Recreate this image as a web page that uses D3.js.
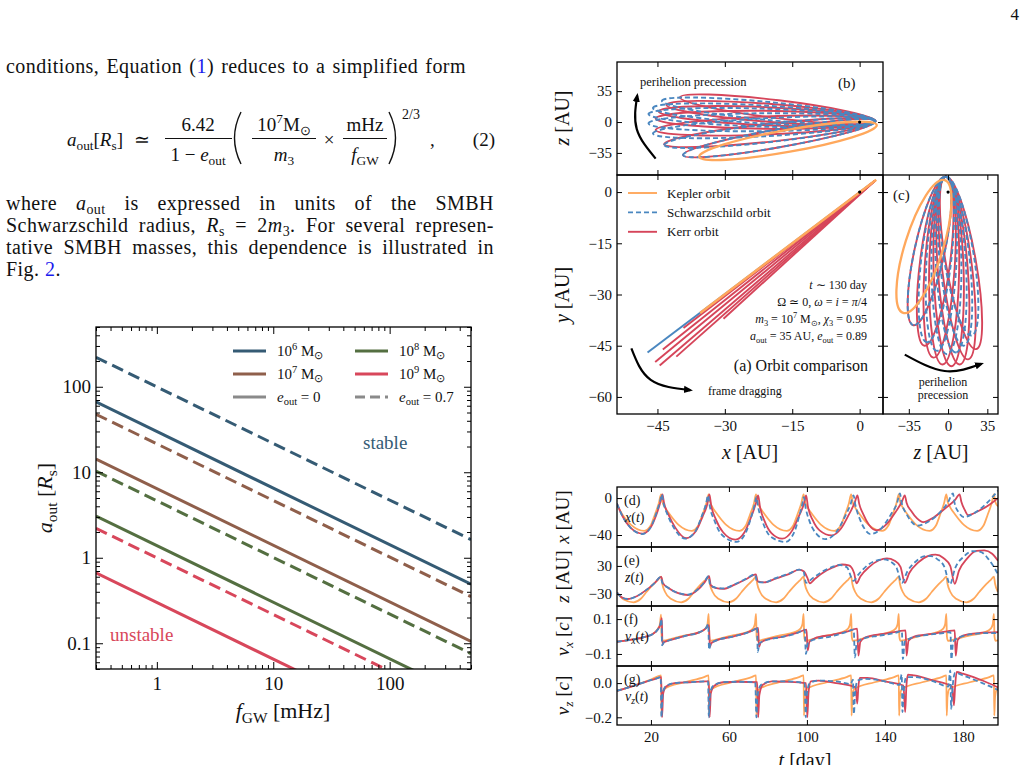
<!DOCTYPE html>
<html>
<head>
<meta charset="utf-8">
<script src="https://cdn.jsdelivr.net/npm/d3@7"></script>
<style>
body { margin: 0; background: #fff; }
svg text { font-family: "Liberation Serif", "Times New Roman", serif; fill: #111; }
</style>
</head>
<body>
<svg id="page" width="1028" height="765"></svg>
<script>
// ---------- Fig. 2 data : a_out vs f_GW ----------
var fRange = [0.3, 500];
var massExp = ["6", "7", "8", "9"];
var massColors = ["#355b74", "#8f5f4b", "#546f41", "#d8475b"];
var aCircStart = [66.5, 14.3, 3.08, 0.665];   // e_out = 0, at f = 0.3 mHz
var aCircEnd = [0.49, 0.105, 0.0227, 0.0049];  // at f = 500 mHz
var aEccStart = [221, 47.7, 10.3, 2.21];      // e_out = 0.7
var aEccEnd = [1.63, 0.351, 0.0757, 0.0163];
var fMajor = [1, 10, 100];
var aMajor = [0.1, 1, 10, 100];

// ---------- orbit panels ----------
var kepColor = "#ffa85c", schColor = "#4a87c0", kerColor = "#d6455a";
// (a) x-y : far ends of each orbit
var periXY = [3.4, 3.3];
var kepXY = [[3.7, 3.6], [-35.5, -35.4]];
var schXYEnd = [[-47.2, -47.0]];
var kerXYEnd = [[-39.2, -39.8], [-30.3, -37.1], [-40.8, -48.2], [-43.8, -46.1], [-44.5, -50.8], [-45.5, -49.8]];
// (b) x-z : pericenter / apocenter of each loop
var periXZ = [3.5, 1];
var kepXZ = [[3.8, -3.4], [-35.7, -39.3]];
var schXZEnd = [[-39.3, -37.5], [-43.5, -26], [-46, -13], [-47, -1.5], [-47, 9], [-46, 16], [-44, 24]];
var kerXZEnd = [[-39.3, -37.5], [-43.5, -25], [-45.4, -9], [-45.4, 4], [-44.7, 12], [-43, 19.5], [-40, 28]];
// (c) z-y
var periZY = [-2, 4.5];
var kepZY = [[-3, 3.5], [-40, -35.4]];
var schZYEnd = [[-31, -39], [-19, -44], [-10, -46.5], [-1, -47.5], [7, -47], [14, -45], [21, -42]];
var kerZYEnd = [[-31, -39], [-21, -45], [-13, -48.5], [-5, -50.5], [3, -51], [10.5, -50.5], [18, -49], [25, -46]];

// ---------- time series (t [day], value) ----------
var kepX = [[2.6,-7],[5.4,-18],[9.8,-29],[16.6,-35.5],[19.8,-30],[22,-18],[24,-6],[25.2,4],
  [25.9,-4],[27.2,-10],[29.8,-18],[34.2,-29],[41,-35.5],[44.2,-30],[46.4,-18],[48.4,-6],[49.6,4],
  [50.3,-4],[51.6,-10],[54.2,-18],[58.6,-29],[65.4,-35.5],[68.6,-30],[70.8,-18],[72.8,-6],[73.9,4],
  [74.6,-4],[75.9,-10],[78.5,-18],[82.9,-29],[89.7,-35.5],[92.9,-30],[95.1,-18],[97.1,-6],[98.3,4],
  [99,-4],[100.3,-10],[102.9,-18],[107.3,-29],[114.1,-35.5],[117.3,-30],[119.5,-18],[121.5,-6],[122.7,4],
  [123.4,-4],[124.7,-10],[127.3,-18],[131.7,-29],[138.5,-35.5],[141.7,-30],[143.9,-18],[145.9,-6],[147.1,4],
  [147.8,-4],[149.1,-10],[151.7,-18],[156.1,-29],[162.9,-35.5],[166.1,-30],[168.3,-18],[170.3,-6],[171.5,4],
  [172.2,-4],[173.5,-10],[176.1,-18],[180.5,-29],[187.3,-35.5],[190.5,-30],[192.7,-18],[194.7,-6],[195.9,4],
  [196.6,-4],[198,-9]];
var schX = [[2.6,-6],[5.5,-20],[9.5,-32],[15.5,-39],[19.5,-33],[22.5,-18],[24.6,-4],[25.6,4],
  [26.4,-5],[28.5,-18],[32,-33],[37.5,-44],[42.5,-37],[46,-20],[48.3,-6],[49.3,3],
  [50.1,-8],[52.5,-24],[56.5,-40],[64,-47.5],[68.5,-38],[71.5,-20],[73.2,-7],[74.1,1],
  [75,-10],[77.5,-27],[81.5,-42],[89,-47.5],[93.5,-37],[96,-20],[97.6,-7],[98.4,1],
  [99.3,-10],[101.5,-26],[105,-39],[109.5,-44.5],[115,-37],[119.5,-20],[122.5,-6],[123.9,3],
  [124.8,-7],[127,-22],[129.8,-34],[132.5,-39],[138,-33],[143,-18],[146.3,-5],[147.7,5],
  [148.6,-5],[151,-17],[153.8,-26],[156.5,-30],[162,-26],[168,-16],[172.5,-4],[174.9,5],
  [175.7,-5],[178,-16],[180.3,-20.5],[186,-16],[192,-6],[198,8]];
var kerX = [[2.6,-6],[5.5,-20],[9.5,-32],[15.8,-38.5],[19.8,-32],[22.8,-18],[24.9,-4],[25.9,4],
  [26.7,-5],[29,-18],[32.5,-32],[38,-43.5],[43,-36],[46.5,-20],[49,-6],[50,4],
  [50.9,-8],[53.3,-23],[57,-37],[63.3,-45],[68,-37],[71.5,-20],[73.8,-6],[75,3],
  [75.9,-9],[78.3,-25],[81.8,-38],[87.3,-44],[92.5,-35],[96,-19],[98.5,-6],[99.6,3],
  [100.5,-9],[103,-24],[106.5,-35],[112.7,-40.5],[117.5,-33],[121.5,-18],[124.5,-5],[125.9,3],
  [126.8,-6],[129,-18],[131.8,-29],[135.7,-35],[141,-28],[145.5,-15],[148.7,-4],[150.2,3],
  [151.1,-5],[153.5,-14],[156.5,-22],[159.6,-26],[165,-21],[171,-11],[176,-2],[178.3,4],
  [179.2,-4],[181,-13],[182.7,-18.5],[188,-14],[193,-8],[198,0]];

var kepZ = [[2.6,-27],[5.8,-41],[11.1,-47.5],[14.8,-40],[17.8,-25],[20.8,-11],[23.3,-1],[25.2,7],
  [25.8,-8],[27.2,-25],[30.2,-40],[35.5,-47.5],[39.2,-40],[42.2,-25],[45.2,-11],[47.7,-1],[49.6,7],
  [50.2,-8],[51.6,-25],[54.6,-40],[59.9,-47.5],[63.6,-40],[66.6,-25],[69.6,-11],[72.1,-1],[73.9,7],
  [74.5,-8],[75.9,-25],[78.9,-40],[84.2,-47.5],[87.9,-40],[90.9,-25],[93.9,-11],[96.4,-1],[98.3,7],
  [98.9,-8],[100.3,-25],[103.3,-40],[108.6,-47.5],[112.3,-40],[115.3,-25],[118.3,-11],[120.8,-1],[122.7,7],
  [123.3,-8],[124.7,-25],[127.7,-40],[133,-47.5],[136.7,-40],[139.7,-25],[142.7,-11],[145.2,-1],[147.1,7],
  [147.7,-8],[149.1,-25],[152.1,-40],[157.4,-47.5],[161.1,-40],[164.1,-25],[167.1,-11],[169.6,-1],[171.5,7],
  [172.1,-8],[173.5,-25],[176.5,-40],[181.8,-47.5],[185.5,-40],[188.5,-25],[191.5,-11],[194,-1],[195.9,7],
  [196.5,-8],[197.9,-25]];
var schZ = [[2.6,-27],[5,-37],[8,-40.5],[13,-34],[18,-20],[22,-6],[25,6.5],
  [25.8,-6],[29,-17],[34,-28],[39,-31],[44,-20],[47.5,-4],[49.5,8],
  [50.4,-11],[53,-16],[57,-18],[63,-9],[69,3],[73.4,12],
  [74.4,-4],[78,-5],[84,4],[91,14],[96,22],[98.3,18],
  [99.5,-6],[103,4],[108,18],[113,28],[117,32],[120.5,27],[123.9,-2],
  [126.5,12],[131,31],[136,42],[139.5,44],[143,39],[146,26],[148.7,-6],
  [151.5,18],[156,40],[160.5,51],[163.5,51],[167,44],[170.5,28],[173.4,-9],
  [176,25],[180.5,50],[185,61.5],[189,60],[193,45],[196,27],[198,12]];
var kerZ = [[2.6,-27],[5,-37],[8,-40.5],[13,-34],[18,-20],[22,-6],[25.3,6.5],
  [26.1,-6],[29,-17],[34,-28],[39,-32],[44,-21],[47.5,-5],[49.8,8],
  [50.7,-11],[53,-17],[57,-19],[63,-10],[69,2],[73.8,12],
  [74.8,-3],[78,-5],[84,3],[91,13],[96,22],[98.5,18],[100.2,5],[101.4,-7],
  [104,2],[108,15],[113,26],[118,33],[121.5,31],[124.2,15],[125.4,-7],
  [127.5,8],[132,28],[137,42],[141,46],[145,41],[148,28],[150.2,-6],
  [152.5,15],[157,37],[162,51],[166,54],[170,47],[173.5,30],[175.8,-8],
  [178,20],[182,45],[187,62],[191,63],[195,56],[198,41]];

var kepVx = [[2.6,-0.03],[10,-0.018],[17,-0.002],[21,0.015],[23.6,0.045],[24.6,0.07],[25.2,0.125],[25.5,0],[26,-0.025],[28,-0.02],[37,0.005],[45,0.025],
  [48,0.045],[49,0.07],[49.6,0.13],[49.9,0],[50.4,-0.025],[52.4,-0.02],[61.4,0.005],[69.4,0.025],
  [72.3,0.045],[73.3,0.07],[73.9,0.13],[74.2,0],[74.7,-0.025],[76.7,-0.02],[85.7,0.005],[93.7,0.025],
  [96.7,0.045],[97.7,0.07],[98.3,0.13],[98.6,0],[99.1,-0.025],[101.1,-0.02],[110.1,0.005],[118.1,0.025],
  [121.1,0.045],[122.1,0.07],[122.7,0.13],[123,0],[123.5,-0.025],[125.5,-0.02],[134.5,0.005],[142.5,0.025],
  [145.5,0.045],[146.5,0.07],[147.1,0.13],[147.4,0],[147.9,-0.025],[149.9,-0.02],[158.9,0.005],[166.9,0.025],
  [169.9,0.045],[170.9,0.07],[171.5,0.13],[171.8,0],[172.3,-0.025],[174.3,-0.02],[183.3,0.005],[191.3,0.025],
  [194.3,0.045],[195.3,0.07],[195.9,0.13],[196.2,0],[196.7,-0.025],[198,-0.022]];
var schVx = [[2.6,-0.03],[10,-0.018],[17,-0.002],[21,0.015],[23.5,0.04],[24.8,0.07],[25.4,0.1],[25.7,-0.05],[26.5,-0.035],[30,-0.02],[38,0.005],[45,0.025],
  [48.3,0.05],[49.4,0.07],[49.8,-0.075],[50.6,-0.04],[53,-0.025],[62,0],[70,0.025],
  [73.5,0.045],[74.4,0.055],[74.8,-0.09],[75.6,-0.04],[78,-0.025],[87,-0.003],[95,0.02],
  [98.8,0.04],[99.5,-0.1],[100.4,-0.04],[103,-0.02],[112,0],[120,0.025],
  [124,0.04],[124.6,-0.12],[125.5,-0.04],[128,-0.015],[137,0.005],[145,0.02],
  [148.7,0.03],[149.2,-0.13],[150.2,-0.03],[153,-0.01],[162,0.01],[170,0.02],
  [173.6,0.025],[174.1,-0.13],[175,-0.03],[178,-0.005],[186,0.015],[194,0.02],[198,0.02]];
var kerVx = [[2.6,-0.03],[10,-0.018],[17,-0.002],[21,0.015],[23.5,0.04],[24.9,0.07],[25.6,0.105],[25.9,-0.045],[26.7,-0.033],[30,-0.02],[38,0.005],[45,0.025],
  [48.5,0.05],[49.8,0.065],[50.2,-0.06],[51,-0.038],[53,-0.025],[62,0],[70,0.025],
  [74,0.045],[75,0.05],[75.4,-0.06],[76.3,-0.035],[79,-0.02],[88,0],[96,0.025],
  [99.8,0.04],[100.4,-0.08],[101.3,-0.03],[104,-0.01],[113,0.01],[121,0.03],
  [125.8,0.045],[126.4,-0.11],[127.4,-0.03],[130,-0.005],[139,0.015],[147,0.03],
  [150.6,0.035],[151.1,-0.11],[152.1,-0.025],[155,0],[164,0.015],[172,0.03],
  [175.8,0.035],[176.3,-0.11],[177.3,-0.02],[180,0.005],[188,0.02],[198,0.025]];

var kepVz = [[2.6,-0.045],[12,-0.012],[20,0.02],[25.2,0.045],[25.4,-0.19],[25.8,-0.08],[26.8,-0.035],[37.2,0.005],[47.2,0.035],
  [49.6,0.045],[49.8,-0.19],[50.2,-0.08],[51.2,-0.035],[61.6,0.005],[71.6,0.035],
  [73.9,0.045],[74.1,-0.19],[74.5,-0.08],[75.5,-0.035],[85.9,0.005],[95.9,0.035],
  [98.3,0.045],[98.5,-0.19],[98.9,-0.08],[99.9,-0.035],[110.3,0.005],[120.3,0.035],
  [122.7,0.045],[122.9,-0.19],[123.3,-0.08],[124.3,-0.035],[134.7,0.005],[144.7,0.035],
  [147.1,0.045],[147.3,-0.19],[147.7,-0.08],[148.7,-0.035],[159.1,0.005],[169.1,0.035],
  [171.5,0.045],[171.7,-0.19],[172.1,-0.08],[173.1,-0.035],[183.5,0.005],[193.5,0.035],
  [195.9,0.045],[196.1,-0.19],[196.5,-0.08],[197.5,-0.035],[198,-0.033]];
var schVz = [[2.6,-0.045],[10,-0.02],[18,0.01],[23,0.028],[25,0.035],[25.4,-0.2],[26,-0.06],[27.5,-0.02],[32,0],[40,0.005],[48,0.01],
  [49.3,0.01],[49.7,-0.2],[50.3,-0.06],[52,-0.015],[57,0.005],[65,0.008],
  [73.5,0.005],[74.1,-0.2],[74.7,-0.07],[76.5,-0.01],[82,0.01],[90,0.01],
  [98.8,0],[99.4,-0.2],[100,-0.06],[101.5,0],[106,0.015],[115,0.01],
  [122.5,-0.005],[123.6,0.02],[124.1,-0.18],[124.7,-0.06],[126,0.015],[130,0.025],[140,0.01],
  [147.5,-0.01],[148.6,0.05],[149,-0.17],[149.6,-0.05],[151,0.035],[155,0.035],[165,0.01],
  [172.5,-0.02],[173.5,0.075],[174,-0.15],[174.6,-0.04],[176,0.06],[180,0.045],[190,0],[198,-0.04]];
var kerVz = [[2.6,-0.045],[10,-0.02],[18,0.01],[23,0.028],[25.3,0.035],[25.7,-0.2],[26.3,-0.06],[27.8,-0.02],[32,0],[40,0.005],[48,0.01],
  [49.7,0.01],[50.1,-0.2],[50.7,-0.06],[52.5,-0.015],[57,0.005],[65,0.008],
  [74.5,0.005],[75,-0.2],[75.6,-0.07],[77.4,-0.01],[82,0.01],[90,0.008],
  [99.5,0],[100.2,-0.2],[100.8,-0.06],[102,0.01],[106,0.015],[115,0],
  [125,-0.025],[125.8,-0.12],[126.4,-0.02],[127.2,0.03],[131,0.03],[140,0.01],
  [149.5,-0.015],[150.4,-0.17],[151,-0.02],[151.8,0.05],[155,0.045],[165,0.015],
  [174.5,-0.02],[175.4,-0.13],[176,-0.02],[176.8,0.065],[180,0.055],[190,0.015],[198,-0.025]];

var tTicks = [20, 60, 100, 140, 180];

// ======================================================
var svg = d3.select("#page");
svg.append("rect").attr("width", 1028).attr("height", 765).attr("fill", "#fff");
var defs = svg.append("defs");
defs.append("marker").attr("id", "arr").attr("viewBox", "0 0 10 10")
  .attr("refX", 7).attr("refY", 5).attr("markerUnits", "userSpaceOnUse")
  .attr("markerWidth", 9).attr("markerHeight", 9).attr("orient", "auto")
  .append("path").attr("d", "M0,1 L10,5 L0,9 z").attr("fill", "#000");

var clipN = 0;
function clip(x, y, w, h) {
  var id = "clip" + (clipN++);
  defs.append("clipPath").attr("id", id).append("rect")
    .attr("x", x).attr("y", y).attr("width", w).attr("height", h);
  return "url(#" + id + ")";
}

// text with italic / sub / sup / blue parts
function rich(g, x, y, size, parts, anchor) {
  var t = g.append("text").attr("x", x).attr("y", y).style("font-size", size + "px");
  if (anchor) t.attr("text-anchor", anchor);
  var shift = 0;
  parts.forEach(function(p) {
    var s = typeof p === "string" ? [p, ""] : p;
    var want = s[1].indexOf("_") >= 0 ? size * 0.22 : (s[1].indexOf("^") >= 0 ? -size * 0.4 : 0);
    var ts = t.append("tspan").attr("dy", want - shift).text(s[0]);
    shift = want;
    if (s[1].indexOf("i") >= 0) ts.style("font-style", "italic");
    if (want) ts.style("font-size", (size * 0.7) + "px");
    if (s[1].indexOf("b") >= 0) ts.style("fill", "#1a1aee");
  });
  return t;
}
// justify a line by widening the word gaps
function justify(t, width) {
  t.style("letter-spacing", "0.45px");
  var natural = t.node().getComputedTextLength();
  var gaps = (t.text().match(/ /g) || []).length;
  if (gaps) t.style("word-spacing", Math.max(0, (width - natural) / gaps) + "px");
}

function minus(d) { return (d < 0 ? "\u2212" : "") + Math.abs(d); }
function blank() { return ""; }

function styleAx(sel, fs) {
  sel.select(".domain").remove();
  sel.selectAll(".tick line").attr("stroke", "#000").attr("stroke-width", 1);
  sel.selectAll(".tick text").attr("fill", "#111")
    .style("font-family", "'Liberation Serif', serif").style("font-size", fs + "px");
}

// frame with inward ticks on every side
function axes4(g, sx, sy, xt, yt, xfmt, yfmt, fs, len) {
  var r = sx.range(), d = sy.range();
  styleAx(g.append("g").attr("transform", "translate(0," + d[0] + ")")
    .call(d3.axisBottom(sx).tickValues(xt).tickSize(-len).tickPadding(6).tickFormat(xfmt || blank)), fs);
  styleAx(g.append("g").attr("transform", "translate(0," + d[1] + ")")
    .call(d3.axisTop(sx).tickValues(xt).tickSize(-len).tickFormat(blank)), fs);
  styleAx(g.append("g").attr("transform", "translate(" + r[0] + ",0)")
    .call(d3.axisLeft(sy).tickValues(yt).tickSize(-len).tickPadding(5).tickFormat(yfmt || blank)), fs);
  styleAx(g.append("g").attr("transform", "translate(" + r[1] + ",0)")
    .call(d3.axisRight(sy).tickValues(yt).tickSize(-len).tickFormat(blank)), fs);
  g.append("rect").attr("x", r[0]).attr("y", d[1]).attr("width", r[1] - r[0]).attr("height", d[0] - d[1])
    .attr("fill", "none").attr("stroke", "#000").attr("stroke-width", 1.3);
}

function ylabel(g, x, y, size, parts) {
  var t = rich(g, 0, 0, size, parts, "middle");
  t.attr("transform", "translate(" + x + "," + y + ") rotate(-90)");
  return t;
}

// ---------------- page text ----------------
var txt = svg.append("g");
svg.append("text").attr("x", 1019).attr("y", 20).attr("text-anchor", "end").style("font-size", "17px").text("4");
justify(rich(txt, 6, 73, 20, ["conditions, Equation (", ["1", "b"], ") reduces to a simplified form"]), 460);
justify(rich(txt, 6, 210, 20, ["where ", ["a", "i"], ["out", "_"], " is expressed in units of the SMBH"]), 488);
justify(rich(txt, 6, 232, 20, ["Schwarzschild radius, ", ["R", "i"], ["s", "_"], " = 2", ["m", "i"], ["3", "_"], ". For several represen-"]), 488);
justify(rich(txt, 6, 254, 20, ["tative SMBH masses, this dependence is illustrated in"]), 488);
rich(txt, 6, 276, 20, ["Fig. ", ["2", "b"], "."]).style("letter-spacing", "0.45px");

// equation (2)
var eq = svg.append("g");
rich(eq, 67, 146, 19, [["a", "i"], ["out", "_"], "[", ["R", "i"], ["s", "_"], "]"]);
rich(eq, 142, 146, 19, ["\u2243"], "middle");
rich(eq, 198, 131, 19, ["6.42"], "middle");
eq.append("line").attr("x1", 165).attr("x2", 232).attr("y1", 138.5).attr("y2", 138.5).attr("stroke", "#111").attr("stroke-width", 1);
rich(eq, 198, 161, 19, ["1 \u2212 ", ["e", "i"], ["out", "_"]], "middle");
eq.append("path").attr("d", "M241,112 Q228,138 241,164").attr("fill", "none").attr("stroke", "#111").attr("stroke-width", 1.4);
rich(eq, 284, 131, 19, ["10", ["7", "^"], "M", ["\u2299", "_"]], "middle");
eq.append("line").attr("x1", 252).attr("x2", 316).attr("y1", 138.5).attr("y2", 138.5).attr("stroke", "#111").attr("stroke-width", 1);
rich(eq, 284, 161, 19, [["m", "i"], ["3", "_"]], "middle");
rich(eq, 329, 146, 19, ["\u00d7"], "middle");
rich(eq, 365, 131, 19, ["mHz"], "middle");
eq.append("line").attr("x1", 343).attr("x2", 387).attr("y1", 138.5).attr("y2", 138.5).attr("stroke", "#111").attr("stroke-width", 1);
rich(eq, 365, 161, 19, [["f", "i"], ["GW", "_"]], "middle");
eq.append("path").attr("d", "M389,112 Q402,138 389,164").attr("fill", "none").attr("stroke", "#111").attr("stroke-width", 1.4);
rich(eq, 402, 119, 14, ["2/3"]);
rich(eq, 430, 146, 19, [","]);
rich(eq, 495, 146, 19, ["(2)"], "end");

// ---------------- left chart ----------------
var L = { x0: 96, x1: 471, y0: 327, y1: 669 };
var fx = d3.scaleLog().domain(fRange).range([L.x0, L.x1]);
var ay = d3.scaleLog().domain([0.05, 500]).range([L.y1, L.y0]);
var lc = svg.append("g");
var pl = lc.append("g").attr("clip-path", clip(L.x0, L.y0, L.x1 - L.x0, L.y1 - L.y0));
var lineL = d3.line().x(function(d) { return fx(d[0]); }).y(function(d) { return ay(d[1]); });
massExp.forEach(function(m, i) {
  pl.append("path").datum([[fRange[0], aEccStart[i]], [fRange[1], aEccEnd[i]]])
    .attr("d", lineL).attr("fill", "none").attr("stroke", massColors[i]).attr("stroke-width", 3)
    .attr("stroke-dasharray", "12,6");
  pl.append("path").datum([[fRange[0], aCircStart[i]], [fRange[1], aCircEnd[i]]])
    .attr("d", lineL).attr("fill", "none").attr("stroke", massColors[i]).attr("stroke-width", 3);
});

// ticks (major + minor, inward)
var fMinor = [], aMinor = [];
[0.1, 1, 10, 100].forEach(function(b) {
  for (var k = 2; k <= 9; k++) {
    var v = b * k;
    if (v >= fRange[0] && v <= fRange[1]) fMinor.push(v);
  }
});
[0.01, 0.1, 1, 10, 100].forEach(function(b) {
  for (var k = 2; k <= 9; k++) {
    var v = b * k;
    if (v >= 0.05 && v <= 500) aMinor.push(v);
  }
});
[[L.y1, d3.axisBottom], [L.y0, d3.axisTop]].forEach(function(o, j) {
  styleAx(lc.append("g").attr("transform", "translate(0," + o[0] + ")").call(o[1](fx).tickValues(fMinor).tickSize(-4).tickFormat(blank)), 19);
  styleAx(lc.append("g").attr("transform", "translate(0," + o[0] + ")").call(o[1](fx).tickValues(fMajor).tickSize(-7).tickPadding(8).tickFormat(j === 0 ? String : blank)), 19);
});
[[L.x0, d3.axisLeft], [L.x1, d3.axisRight]].forEach(function(o, j) {
  styleAx(lc.append("g").attr("transform", "translate(" + o[0] + ",0)").call(o[1](ay).tickValues(aMinor).tickSize(-4).tickFormat(blank)), 19);
  styleAx(lc.append("g").attr("transform", "translate(" + o[0] + ",0)").call(o[1](ay).tickValues(aMajor).tickSize(-7).tickPadding(5).tickFormat(j === 0 ? String : blank)), 19);
});
lc.append("rect").attr("x", L.x0).attr("y", L.y0).attr("width", L.x1 - L.x0).attr("height", L.y1 - L.y0)
  .attr("fill", "none").attr("stroke", "#000").attr("stroke-width", 1.3);

// legend
var legL = [
  { c: massColors[0], dash: null, p: ["10", ["6", "^"], " M", ["\u2299", "_"]], col: 0, row: 0 },
  { c: massColors[2], dash: null, p: ["10", ["8", "^"], " M", ["\u2299", "_"]], col: 1, row: 0 },
  { c: massColors[1], dash: null, p: ["10", ["7", "^"], " M", ["\u2299", "_"]], col: 0, row: 1 },
  { c: massColors[3], dash: null, p: ["10", ["9", "^"], " M", ["\u2299", "_"]], col: 1, row: 1 },
  { c: "#8a8a8a", dash: null, p: [["e", "i"], ["out", "_"], " = 0"], col: 0, row: 2 },
  { c: "#8a8a8a", dash: "10,5", p: [["e", "i"], ["out", "_"], " = 0.7"], col: 1, row: 2 }
];
legL.forEach(function(e) {
  var lx = e.col ? 355 : 233, ly = 351 + e.row * 23;
  lc.append("line").attr("x1", lx).attr("x2", lx + 33).attr("y1", ly).attr("y2", ly)
    .attr("stroke", e.c).attr("stroke-width", 3).attr("stroke-dasharray", e.dash);
  rich(lc, lx + 44, ly + 5, 15, e.p);
});
lc.append("text").attr("x", 363).attr("y", 449).style("font-size", "19px").style("fill", massColors[0]).text("stable");
lc.append("text").attr("x", 110).attr("y", 641).style("font-size", "19px").style("fill", massColors[3]).text("unstable");
rich(lc, 283, 718, 22, [["f", "i"], ["GW", "_"], " [mHz]"], "middle");
ylabel(lc, 52, 498, 22, [["a", "i"], ["out", "_"], " [", ["R", "i"], ["s", "_"], "]"]);

// ---------------- right figure: orbits ----------------
var R = svg.append("g");
var sxA = d3.scaleLinear().domain([-54, 5.2]).range([617, 883]);
var syA = d3.scaleLinear().domain([-65, 5]).range([414, 175]);
var szB = d3.scaleLinear().domain([-60, 68]).range([175, 62]);
var szC = d3.scaleLinear().domain([-58, 44.5]).range([883, 998]);

function loop(g, sx, sy, p, a, b) {
  var p0 = [sx(p[0]), sy(p[1])], a0 = [sx(a[0]), sy(a[1])];
  var cx = (p0[0] + a0[0]) / 2, cy = (p0[1] + a0[1]) / 2;
  var rx = Math.hypot(a0[0] - p0[0], a0[1] - p0[1]) / 2;
  var ang = Math.atan2(a0[1] - p0[1], a0[0] - p0[0]) * 180 / Math.PI;
  return g.append("ellipse").attr("cx", cx).attr("cy", cy).attr("rx", rx).attr("ry", b)
    .attr("transform", "rotate(" + ang + "," + cx + "," + cy + ")").attr("fill", "none");
}
function seg(g, sx, sy, p, a) {
  return g.append("line").attr("x1", sx(p[0])).attr("y1", sy(p[1])).attr("x2", sx(a[0])).attr("y2", sy(a[1]));
}

// (b) x-z
var gb = R.append("g");
var pb = gb.append("g").attr("clip-path", clip(617, 62, 266, 113));
kerXZEnd.forEach(function(a) { loop(pb, sxA, szB, periXZ, a, 9).attr("stroke", kerColor).attr("stroke-width", 1.9); });
schXZEnd.forEach(function(a) { loop(pb, sxA, szB, periXZ, a, 9).attr("stroke", schColor).attr("stroke-width", 1.9).attr("stroke-dasharray", "5,3"); });
loop(pb, sxA, szB, kepXZ[0], kepXZ[1], 11).attr("stroke", kepColor).attr("stroke-width", 2.3);
pb.append("circle").attr("cx", sxA(0)).attr("cy", szB(0)).attr("r", 1.6).attr("fill", "#000");
axes4(gb, sxA, szB, [-45, -30, -15, 0], [35, 0, -35], null, minus, 15, 5);
gb.append("path").attr("d", d3.line().curve(d3.curveNatural)([[sxA(-45.4), szB(-41.4)], [sxA(-49.6), szB(-8)], [sxA(-49.5), szB(30)]]))
  .attr("fill", "none").attr("stroke", "#000").attr("stroke-width", 2.2).attr("marker-end", "url(#arr)");
gb.append("text").attr("x", 640).attr("y", 86).style("font-size", "12.5px").text("perihelion precession");
gb.append("text").attr("x", 838).attr("y", 88).style("font-size", "15px").text("(b)");
ylabel(gb, 569, 118, 20, [["z", "i"], " [AU]"]);

// (a) x-y
var ga = R.append("g");
var pa = ga.append("g").attr("clip-path", clip(617, 175, 266, 239));
schXYEnd.forEach(function(a) { seg(pa, sxA, syA, periXY, a).attr("stroke", schColor).attr("stroke-width", 2); });
kerXYEnd.forEach(function(a) { seg(pa, sxA, syA, periXY, a).attr("stroke", kerColor).attr("stroke-width", 1.9); });
seg(pa, sxA, syA, kepXY[0], kepXY[1]).attr("stroke", kepColor).attr("stroke-width", 2.6);
pa.append("circle").attr("cx", sxA(0)).attr("cy", syA(0)).attr("r", 1.6).attr("fill", "#000");
axes4(ga, sxA, syA, [-45, -30, -15, 0], [0, -15, -30, -45, -60], minus, minus, 15, 5);
var legA = [["Kepler orbit", kepColor, null], ["Schwarzschild orbit", schColor, "5,3"], ["Kerr orbit", kerColor, null]];
legA.forEach(function(e, i) {
  var ly = 193 + i * 19.4;
  ga.append("line").attr("x1", 628).attr("x2", 657).attr("y1", ly).attr("y2", ly)
    .attr("stroke", e[1]).attr("stroke-width", 1.9).attr("stroke-dasharray", e[2]);
  ga.append("text").attr("x", 667).attr("y", ly + 4.5).style("font-size", "13px").text(e[0]);
});
rich(ga, 867, 289, 12, [["t", "i"], " \u223c 130 day"], "end");
rich(ga, 867, 306, 12, ["\u03a9 \u2243 0,  ", ["\u03c9", "i"], " = ", ["i", "i"], " = ", ["\u03c0", "i"], "/4"], "end");
rich(ga, 867, 323, 12, [["m", "i"], ["3", "_"], " = 10", ["7", "^"], " M", ["\u2299", "_"], ",  ", ["\u03c7", "i"], ["3", "_"], " = 0.95"], "end");
rich(ga, 867, 340, 12, [["a", "i"], ["out", "_"], " = 35 AU,  ", ["e", "i"], ["out", "_"], " = 0.89"], "end");
ga.append("text").attr("x", 868).attr("y", 371).attr("text-anchor", "end").style("font-size", "16px").text("(a) Orbit comparison");
ga.append("path").attr("d", d3.line().curve(d3.curveNatural)([[sxA(-50.8), syA(-45.8)], [sxA(-46.5), syA(-55)], [sxA(-37.7), syA(-58)]]))
  .attr("fill", "none").attr("stroke", "#000").attr("stroke-width", 2.2).attr("marker-end", "url(#arr)");
ga.append("text").attr("x", 708).attr("y", 395).style("font-size", "12px").text("frame dragging");
ylabel(ga, 569, 295, 20, [["y", "i"], " [AU]"]);
rich(ga, 750, 459, 20, [["x", "i"], " [AU]"], "middle");

// (c) z-y
var gc = R.append("g");
var pc = gc.append("g").attr("clip-path", clip(883, 175, 115, 239));
kerZYEnd.forEach(function(a) { loop(pc, szC, syA, periZY, a, 15).attr("stroke", kerColor).attr("stroke-width", 1.9); });
schZYEnd.forEach(function(a) { loop(pc, szC, syA, periZY, a, 15).attr("stroke", schColor).attr("stroke-width", 1.9).attr("stroke-dasharray", "5,3"); });
loop(pc, szC, syA, kepZY[0], kepZY[1], 19).attr("stroke", kepColor).attr("stroke-width", 2.3);
pc.append("circle").attr("cx", szC(0)).attr("cy", syA(0)).attr("r", 1.6).attr("fill", "#000");
axes4(gc, szC, syA, [-35, 0, 35], [0, -15, -30, -45, -60], minus, null, 15, 5);
gc.append("path").attr("d", d3.line().curve(d3.curveNatural)([[szC(-38.6), syA(-47.6)], [szC(-3), syA(-52.4)], [szC(29.7), syA(-50.3)]]))
  .attr("fill", "none").attr("stroke", "#000").attr("stroke-width", 2.2).attr("marker-end", "url(#arr)");
gc.append("text").attr("x", 893).attr("y", 200).style("font-size", "15px").text("(c)");
gc.append("text").attr("x", 943).attr("y", 386).attr("text-anchor", "middle").style("font-size", "12px").text("perihelion");
gc.append("text").attr("x", 943).attr("y", 399).attr("text-anchor", "middle").style("font-size", "12px").text("precession");
rich(gc, 941, 459, 20, [["z", "i"], " [AU]"], "middle");

// ---------------- right figure: time series ----------------
var st = d3.scaleLinear().domain([2.6, 198]).range([617, 998]);
var tsPanels = [
  { y: [487, 547], dom: [-53, 12], ticks: [0, -40], fmt: minus, kep: kepX, sch: schX, ker: kerX,
    tag: "(d)", lab: [["x", "i"], "(", ["t", "i"], ")"], yl: [["x", "i"], " [AU]"] },
  { y: [547, 606], dom: [-55.4, 70.3], ticks: [30, -30], fmt: minus, kep: kepZ, sch: schZ, ker: kerZ,
    tag: "(e)", lab: [["z", "i"], "(", ["t", "i"], ")"], yl: [["z", "i"], " [AU]"] },
  { y: [606, 666], dom: [-0.169, 0.175], ticks: [0.1, -0.1], fmt: function(d) { return (d < 0 ? "\u2212" : "") + Math.abs(d).toFixed(1); },
    kep: kepVx, sch: schVx, ker: kerVx,
    tag: "(f)", lab: [["v", "i"], ["x", "i_"], "(", ["t", "i"], ")"], yl: [["v", "i"], ["x", "i_"], "  [", ["c", "i"], "]"] },
  { y: [666, 725], dom: [-0.245, 0.1], ticks: [0, -0.2], fmt: function(d) { return (d < 0 ? "\u2212" : "") + Math.abs(d).toFixed(1); },
    kep: kepVz, sch: schVz, ker: kerVz,
    tag: "(g)", lab: [["v", "i"], ["z", "i_"], "(", ["t", "i"], ")"], yl: [["v", "i"], ["z", "i_"], "  [", ["c", "i"], "]"] }
];
tsPanels.forEach(function(P, i) {
  var g = R.append("g");
  var sy = d3.scaleLinear().domain(P.dom).range([P.y[1], P.y[0]]);
  var line = d3.line().curve(d3.curveMonotoneX).x(function(d) { return st(d[0]); }).y(function(d) { return sy(d[1]); });
  var pg = g.append("g").attr("clip-path", clip(617, P.y[0], 381, P.y[1] - P.y[0]));
  pg.append("path").datum(P.kep).attr("d", line).attr("fill", "none").attr("stroke", kepColor).attr("stroke-width", 1.8);
  pg.append("path").datum(P.ker).attr("d", line).attr("fill", "none").attr("stroke", kerColor).attr("stroke-width", 1.8);
  pg.append("path").datum(P.sch).attr("d", line).attr("fill", "none").attr("stroke", schColor).attr("stroke-width", 1.8).attr("stroke-dasharray", "5,3");
  axes4(g, st, sy, tTicks, P.ticks, i === 3 ? String : null, P.fmt, 15, 5);
  g.append("text").attr("x", 624).attr("y", P.y[0] + 18).style("font-size", "14px").text(P.tag);
  rich(g, 625, P.y[0] + 35, 14, P.lab);
  ylabel(g, 569, (P.y[0] + P.y[1]) / 2, 19, P.yl);
});
rich(R, 805, 767, 20, [["t", "i"], " [day]"], "middle");
</script>
</body>
</html>
